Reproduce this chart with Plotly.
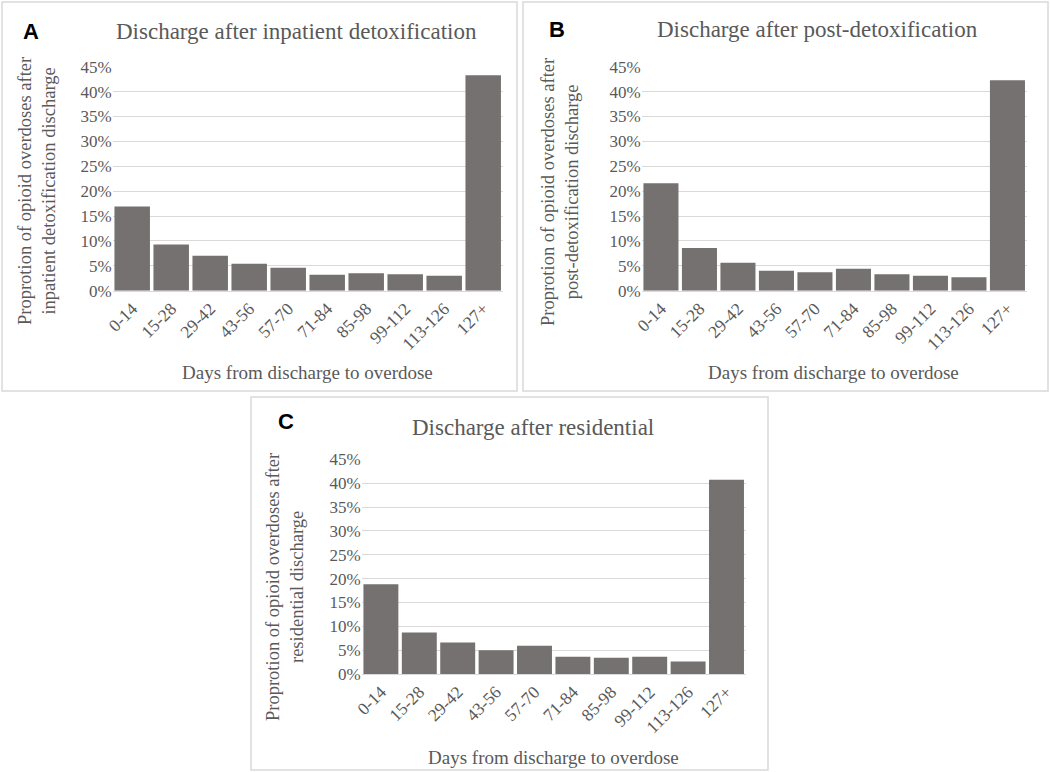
import plotly.graph_objects as go

categories = ["0-14", "15-28", "29-42", "43-56", "57-70", "71-84", "85-98", "99-112", "113-126", "127+"]
inpatient_detox = [16.9, 9.3, 7.0, 5.4, 4.6, 3.2, 3.5, 3.3, 3.0, 43.3]
post_detox = [21.6, 8.6, 5.6, 4.0, 3.7, 4.4, 3.3, 3.0, 2.7, 42.3]
residential = [18.8, 8.7, 6.6, 5.0, 5.9, 3.6, 3.4, 3.6, 2.6, 40.7]
y_ticks = [0, 5, 10, 15, 20, 25, 30, 35, 40, 45]

W, H = 1050, 772
BAR = "#767171"
GRID = "#d9d9d9"
TXT = "#595959"
SERIF = "Liberation Serif, Times New Roman, serif"

def px(x):
    return x / W

def py(y):
    return 1 - y / H

fig = go.Figure()

panels = [
    dict(data=inpatient_detox, x0=112.7, x1=502.7, ytop=66.7, ybot=290.7, xa="x", ya="y",
         letter="A", lx=31, ly=31, title="Discharge after inpatient detoxification", tx=296, ty=31,
         ytitle="Proprotion of opioid overdoses after<br>inpatient detoxification discharge", yx=37, yy=191,
         xtx=307, xty=373, box=(2, 2, 517, 391)),
    dict(data=post_detox, x0=641.7, x1=1026.7, ytop=66.7, ybot=290.7, xa="x2", ya="y2",
         letter="B", lx=557, ly=29, title="Discharge after post-detoxification", tx=817, ty=29,
         ytitle="Proprotion of opioid overdoses after<br>post-detoxification discharge", yx=560, yy=192,
         xtx=833, xty=373, box=(523, 2, 1048, 391)),
    dict(data=residential, x0=361.7, x1=745.7, ytop=459.3, ybot=674.0, xa="x3", ya="y3",
         letter="C", lx=286, ly=421, title="Discharge after residential", tx=533, ty=427,
         ytitle="Proprotion of opioid overdoses after<br>residential discharge", yx=285, yy=587,
         xtx=553, xty=757, box=(251, 397, 768, 770)),
]

layout_axes = {}
annotations = []
shapes = []
for i, p in enumerate(panels):
    fig.add_trace(go.Bar(x=categories, y=p["data"], xaxis=p["xa"], yaxis=p["ya"],
                         marker=dict(color=BAR, line=dict(width=0)), showlegend=False))
    suffix = "" if i == 0 else str(i + 1)
    layout_axes["xaxis" + suffix] = dict(
        domain=[px(p["x0"]), px(p["x1"])], anchor=p["ya"], tickangle=-45, automargin=False,
        showgrid=False, showline=True, linecolor=GRID, linewidth=1, ticks="",
        tickfont=dict(family=SERIF, size=17.5, color=TXT), fixedrange=True)
    layout_axes["yaxis" + suffix] = dict(
        domain=[py(p["ybot"]), py(p["ytop"])], anchor=p["xa"], range=[0, 45], automargin=False,
        tickvals=y_ticks, ticktext=[f"{v}%" for v in y_ticks],
        showgrid=True, gridcolor=GRID, gridwidth=1, zeroline=False, showline=False,
        tickfont=dict(family=SERIF, size=17, color=TXT), ticks="", fixedrange=True)
    annotations.append(dict(text="<b>" + p["letter"] + "</b>", x=px(p["lx"]), y=py(p["ly"]), xref="paper", yref="paper",
                            showarrow=False, font=dict(family="Liberation Sans, Arial, sans-serif", size=22, color="#000000"),
                            xanchor="center", yanchor="middle"))
    annotations.append(dict(text=p["title"], x=px(p["tx"]), y=py(p["ty"]), xref="paper", yref="paper",
                            showarrow=False, font=dict(family=SERIF, size=23, color=TXT),
                            xanchor="center", yanchor="middle"))
    annotations.append(dict(text=p["ytitle"], x=px(p["yx"]), y=py(p["yy"]), xref="paper", yref="paper",
                            showarrow=False, textangle=-90, font=dict(family=SERIF, size=18.5, color=TXT),
                            xanchor="center", yanchor="middle"))
    annotations.append(dict(text="Days from discharge to overdose", x=px(p["xtx"]), y=py(p["xty"]),
                            xref="paper", yref="paper", showarrow=False,
                            font=dict(family=SERIF, size=19, color=TXT), xanchor="center", yanchor="middle"))
    bx0, by0, bx1, by1 = p["box"]
    shapes.append(dict(type="rect", xref="paper", yref="paper", x0=px(bx0), x1=px(bx1), y0=py(by1), y1=py(by0),
                       line=dict(color=GRID, width=1.5), fillcolor="rgba(0,0,0,0)", layer="below"))

fig.update_layout(
    width=W, height=H, margin=dict(l=0, r=0, t=0, b=0, pad=0, autoexpand=False),
    paper_bgcolor="white", plot_bgcolor="white", bargap=0.09, hovermode=False,
    annotations=annotations, shapes=shapes, **layout_axes)

fig.write_html("out.html", config={"displayModeBar": False, "staticPlot": True},
               post_script="document.body.style.margin='0';document.body.style.padding='0';document.body.style.overflow='hidden';")
